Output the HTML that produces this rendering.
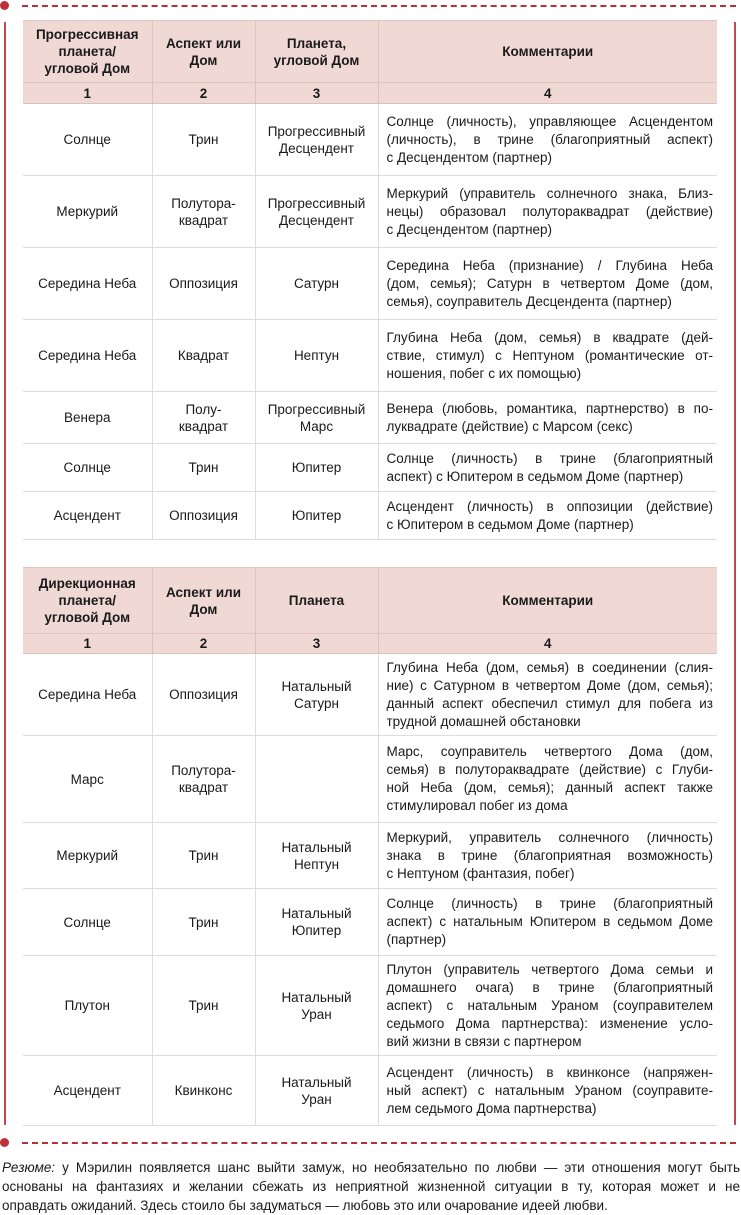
<!DOCTYPE html><html><head><meta charset="utf-8"><style>
body{margin:0;width:741px;height:1214px;background:#fff;position:relative;font-family:"Liberation Sans","DejaVu Sans",sans-serif;color:#1a1a1a;overflow:hidden}
.hl{position:absolute;height:0;border-top:2px dashed #b5303a}
.vl{position:absolute;width:0;border-left:2px solid #c04a52}
.dot{position:absolute;width:9px;height:9px;border-radius:50%;background:#c0303c}
table{position:absolute;left:23px;width:694px;border-collapse:collapse;table-layout:fixed;font-size:13.5px;line-height:17px}
td{border:1px solid #ddd;text-align:center;vertical-align:middle;padding:0 2px;white-space:nowrap}
td.c{text-align:left;padding:0 4px 0 8px;font-size:13.5px;line-height:18px;white-space:normal}
.j{display:block;text-align:justify;text-align-last:justify;white-space:nowrap}
tr.h td{background:#f0d9d4;font-weight:bold;border-color:#e0c4be}
tr.n td{background:#f0d9d4;font-weight:bold;border-color:#dcc0ba}
table tr td:first-child{border-left:none}table tr td:last-child{border-right:none}
p{position:absolute;left:2px;top:1158px;margin:0;width:738px;font-size:13.5px;line-height:19px}
p .j{white-space:normal}
</style></head><body>
<div class="dot" style="left:0;top:1px"></div><div class="hl" style="left:22px;top:5px;width:714px"></div>
<div class="vl" style="left:4px;top:22px;height:1103px"></div><div class="vl" style="left:734px;top:22px;height:1103px"></div>
<div class="dot" style="left:0;top:1138px"></div><div class="hl" style="left:22px;top:1142px;width:714px"></div>
<table style="top:20px">
<colgroup><col style="width:129px"><col style="width:103px"><col style="width:123px"><col></colgroup>
<tr class="h" style="height:62px"><td>Прогрессивная<br>планета/<br>угловой Дом</td><td>Аспект или<br>Дом</td><td>Планета,<br>угловой Дом</td><td>Комментарии</td></tr>
<tr class="n" style="height:21px"><td>1</td><td>2</td><td>3</td><td>4</td></tr>
<tr style="height:72px"><td>Солнце</td><td>Трин</td><td>Прогрессивный<br>Десцендент</td><td class="c"><span class="j">Солнце (личность), управляющее Асцендентом</span><span class="j">(личность), в трине (благоприятный аспект)</span>с Десцендентом (партнер)</td></tr>
<tr style="height:72px"><td>Меркурий</td><td>Полутора-<br>квадрат</td><td>Прогрессивный<br>Десцендент</td><td class="c"><span class="j">Меркурий (управитель солнечного знака, Близ-</span><span class="j">нецы) образовал полутораквадрат (действие)</span>с Десцендентом (партнер)</td></tr>
<tr style="height:72px"><td>Середина Неба</td><td>Оппозиция</td><td>Сатурн</td><td class="c"><span class="j">Середина Неба (признание) / Глубина Неба</span><span class="j">(дом, семья); Сатурн в четвертом Доме (дом,</span>семья), соуправитель Десцендента (партнер)</td></tr>
<tr style="height:72px"><td>Середина Неба</td><td>Квадрат</td><td>Нептун</td><td class="c"><span class="j">Глубина Неба (дом, семья) в квадрате (дей-</span><span class="j">ствие, стимул) с Нептуном (романтические от-</span>ношения, побег с их помощью)</td></tr>
<tr style="height:52px"><td>Венера</td><td>Полу-<br>квадрат</td><td>Прогрессивный<br>Марс</td><td class="c"><span class="j">Венера (любовь, романтика, партнерство) в по-</span>луквадрате (действие) с Марсом (секс)</td></tr>
<tr style="height:48px"><td>Солнце</td><td>Трин</td><td>Юпитер</td><td class="c"><span class="j">Солнце (личность) в трине (благоприятный</span>аспект) с Юпитером в седьмом Доме (партнер)</td></tr>
<tr style="height:48px"><td>Асцендент</td><td>Оппозиция</td><td>Юпитер</td><td class="c"><span class="j">Асцендент (личность) в оппозиции (действие)</span>с Юпитером в седьмом Доме (партнер)</td></tr>
</table>
<table style="top:567px">
<colgroup><col style="width:129px"><col style="width:103px"><col style="width:123px"><col></colgroup>
<tr class="h" style="height:66px"><td>Дирекционная<br>планета/<br>угловой Дом</td><td>Аспект или<br>Дом</td><td>Планета</td><td>Комментарии</td></tr>
<tr class="n" style="height:20px"><td>1</td><td>2</td><td>3</td><td>4</td></tr>
<tr style="height:82px"><td>Середина Неба</td><td>Оппозиция</td><td>Натальный<br>Сатурн</td><td class="c"><span class="j">Глубина Неба (дом, семья) в соединении (слия-</span><span class="j">ние) с Сатурном в четвертом Доме (дом, семья);</span><span class="j">данный аспект обеспечил стимул для побега из</span>трудной домашней обстановки</td></tr>
<tr style="height:87px"><td>Марс</td><td>Полутора-<br>квадрат</td><td></td><td class="c"><span class="j">Марс, соуправитель четвертого Дома (дом,</span><span class="j">семья) в полутораквадрате (действие) с Глуби-</span><span class="j">ной Неба (дом, семья); данный аспект также</span>стимулировал побег из дома</td></tr>
<tr style="height:66px"><td>Меркурий</td><td>Трин</td><td>Натальный<br>Нептун</td><td class="c"><span class="j">Меркурий, управитель солнечного (личность)</span><span class="j">знака в трине (благоприятная возможность)</span>с Нептуном (фантазия, побег)</td></tr>
<tr style="height:67px"><td>Солнце</td><td>Трин</td><td>Натальный<br>Юпитер</td><td class="c"><span class="j">Солнце (личность) в трине (благоприятный</span><span class="j">аспект) с натальным Юпитером в седьмом Доме</span>(партнер)</td></tr>
<tr style="height:100px"><td>Плутон</td><td>Трин</td><td>Натальный<br>Уран</td><td class="c"><span class="j">Плутон (управитель четвертого Дома семьи и</span><span class="j">домашнего очага) в трине (благоприятный</span><span class="j">аспект) с натальным Ураном (соуправителем</span><span class="j">седьмого Дома партнерства): изменение усло-</span>вий жизни в связи с партнером</td></tr>
<tr style="height:70px"><td>Асцендент</td><td>Квинконс</td><td>Натальный<br>Уран</td><td class="c"><span class="j">Асцендент (личность) в квинконсе (напряжен-</span><span class="j">ный аспект) с натальным Ураном (соуправите-</span>лем седьмого Дома партнерства)</td></tr>
</table>
<p><span class="j"><i>Резюме:</i> у Мэрилин появляется шанс выйти замуж, но необязательно по любви — эти отношения могут быть</span><span class="j">основаны на фантазиях и желании сбежать из неприятной жизненной ситуации в ту, которая может и не</span>оправдать ожиданий. Здесь стоило бы задуматься — любовь это или очарование идеей любви.</p>
</body></html>
